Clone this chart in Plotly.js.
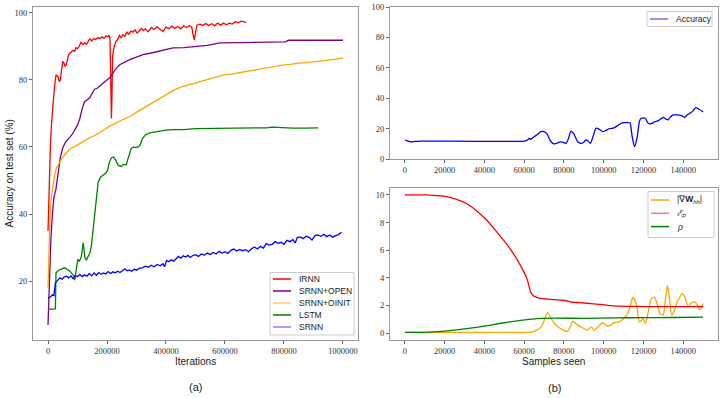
<!DOCTYPE html>
<html>
<head>
<meta charset="utf-8">
<script src="https://cdn.plot.ly/plotly-3.0.1.min.js"></script>
<style>body{margin:0;background:#fff}#chart{width:723px;height:398px}</style>
</head>
<body>
<div id="chart"></div>
<script>
// (a) accuracy on test set vs iterations
var irnnX = [0,2000,5000,8000,12000,17000,22000,27000,31000,35000,38000,42000,46000,50000,54000,58000,62000,66000,70000,75000,80000,85000,90000,95000,100000,106000,112000,118000,124000,130000,136000,142000,148000,155000,162000,169000,176000,183000,190000,197000,203000,207000,210000,212000,214000,215000,217000,219000,222000,226000,230000,236000,242000,248000,254000,260000,267000,274000,281000,288000,295000,302000,309000,316000,323000,330000,340000,350000,360000,370000,380000,390000,400000,410000,420000,430000,440000,450000,460000,470000,480000,487000,492000,496000,500000,505000,515000,525000,535000,545000,555000,565000,575000,585000,595000,605000,615000,625000,635000,645000,655000,665000,672000];
var irnnY = [35,42,52,60,67,73,78,81.5,81,80.8,79.5,80,83,85.5,85,84,84.5,86.5,87.5,88,88.3,88.8,88.5,89.6,89.3,90,91.2,90.5,91,90.6,91.4,92.2,91.6,92.3,92,92.6,92.3,92.8,92.4,93.1,92.8,93.3,92.5,83,70,68.5,76,87,89,90.5,91.5,92,93.2,92.6,93.5,92.9,94.2,93.6,94.5,94.2,94.9,93.9,94.6,95.3,94.7,95.2,94.3,95.6,95,95.8,95.1,94.4,95.7,95.2,96,95.3,95.9,95.2,96.1,95.6,96.2,95.8,93.5,91.8,94,96.3,96.6,96.2,96.8,96.2,96.7,96.1,96.9,96.3,96.9,96.4,96.9,96.6,97.3,97,97.5,97.2,97.1];

var openX = [0,3000,6000,10000,15000,20000,27000,34000,42000,51000,60000,70000,80000,90000,100000,108000,116000,124000,132000,141000,150000,158000,167000,175000,190000,209000,220000,232000,243000,260000,277000,300000,322000,350000,380000,400000,424000,460000,500000,540000,583000,650000,700000,760000,805000,815000,900000,1000000];
var openY = [7,15,24,33,40,45,47.5,51.5,57,60,61.5,62.5,63.5,65,66.5,68.5,71.5,73.5,74,74.6,76,77.2,77.5,78.2,79.3,80.6,82,83.5,84.5,85.3,86,86.8,87.5,88,88.6,89.1,89.5,89.6,90,90.3,91,91.1,91.2,91.2,91.3,91.8,91.8,91.8];

var oinitX = [0,3400,7000,11000,17000,23000,30000,40000,50000,62000,75000,96000,118000,141000,160000,175000,192000,209000,230000,254000,270000,288000,305000,322000,345000,368000,395000,424000,450000,481000,510000,538000,565000,593000,620000,651000,680000,707000,735000,763000,790000,820000,850000,877000,900000,922000,950000,975000,1000000];
var oinitY = [18,33,40,45,49,52,54,55.7,57,58.2,59.5,60.4,61.6,62.7,63.5,64.2,65.2,66.2,67.1,68.2,68.9,69.6,70.6,71.5,72.7,74,75.4,76.8,77.8,78.6,79.4,80.1,80.8,81.4,81.7,82.2,82.6,83.1,83.6,84,84.3,84.6,85,85.1,85.3,85.5,85.9,86.2,86.5];

var lstmX = [0,10000,20000,25000,27000,35000,45000,56000,65000,74000,84000,88000,90500,93000,96000,101000,106000,112000,115000,119000,122000,125000,130000,136000,142000,147000,152000,158000,164000,170000,178000,186000,195000,202000,208000,215000,222000,230000,238000,248000,256000,265000,274000,282000,290000,298000,305000,312000,320000,330000,345000,370000,400000,424000,460000,500000,540000,580000,620000,660000,700000,740000,760000,790000,830000,870000,916000];
var lstmY = [11.6,11.6,11.6,11.8,22.5,23.2,23.6,24,23.6,23,22,21.5,20.3,22,23.5,26.5,26,27,28.5,31.5,29.5,27,26.3,27.5,28.5,30.5,35,39.5,45,49.5,51,51.5,52.2,53,55.5,56.8,57,56,54.5,54.2,54.8,54.7,57,59.5,60,59.8,60,60.5,62.5,63.6,64.2,64.6,65,65.2,65.2,65.5,65.5,65.6,65.6,65.7,65.6,65.7,65.9,65.7,65.6,65.6,65.7];

var srnnX = [0,8000,16000,20000,25000,32000,40000,48000,55000,62000,70000,78000,85000,92000,100000,108000,116000,124000,132000,140000,148000,156000,164000,172000,180000,188000,196000,204000,212000,220000,228000,236000,244000,252000,260000,268000,276000,284000,292000,300000,310000,320000,330000,340000,350000,360000,370000,380000,390000,395000,402000,410000,418000,426000,434000,442000,450000,458000,466000,474000,482000,490000,500000,510000,520000,530000,540000,550000,560000,570000,580000,590000,600000,610000,620000,630000,640000,650000,660000,670000,680000,690000,700000,710000,720000,730000,740000,750000,760000,770000,780000,790000,800000,810000,820000,830000,838000,845000,855000,865000,875000,885000,895000,905000,915000,925000,935000,945000,955000,965000,975000,985000,995000];
var srnnY = [15,15.3,16,15.8,19.5,20.2,21,20.6,21.3,21.5,21,21.6,20.8,21.7,21.4,22,21.4,21.9,21.5,22.3,21.6,22.5,21.8,22.6,22.1,22.5,22.2,22.9,22.3,22.8,22.5,23,22.6,23.1,23.7,23.1,23.4,23,23.6,23.3,23.9,24,24.5,24.2,24.8,24.3,25,24.6,25.2,24.3,26.2,25.8,26.4,26,26.8,27.4,26.9,27.6,27.2,27.7,27.1,27.6,27.9,27.4,28.1,27.8,28.4,28,28.6,28.1,28.9,28.4,28.8,28.3,29.2,29.6,29,29.5,29.1,29.4,28.8,29.7,30.2,29.6,30.4,29.9,31.2,30.8,31,31.8,31.3,31.6,31,32.2,31.8,32.4,31.4,33,33.2,32.7,33.4,33.1,32.3,33.6,33.8,33.4,34,33.3,33.8,33.1,33.6,33.9,34.6];

// (b) top: accuracy vs samples seen
var accX = [0,1500,3000,5000,8000,60000,61600,62500,63300,64900,66500,68300,70000,71500,73400,75000,76500,78400,80000,81000,82300,83500,85000,86900,88600,90000,91000,92000,93300,94700,96100,97800,99500,101000,102900,104500,106300,108800,110500,112200,113200,114300,115500,116800,118000,118900,120900,122300,124000,125600,127500,129900,131000,132400,133500,134900,137000,139100,140800,142000,143300,144800,146200,148000,150000];
var accY = [12.5,11.8,11.2,11.6,11.8,11.8,12.5,13.5,13,14.5,16,18,18,16.5,11.5,10,10.5,11.2,10.8,10.3,13.5,18.4,16.5,11.4,10.3,11,12.5,12,10.3,15,20.2,19.5,18,18.8,20,20.2,21.3,23.5,23.9,24,23.8,15,8.1,14,25,26.8,26.8,23.5,23.2,24.5,25.2,27.4,26.5,25.7,27.5,29,29,28.5,27.4,29,30,31.5,33.8,32.7,31];

// (b) bottom: gradient norm, E_P, rho
var gradX = [0,30000,60000,64000,66000,68300,70000,71700,73400,75000,76800,79300,81800,83000,84400,86000,88600,91900,93600,95300,97800,99500,102100,105400,107500,109700,111000,112200,113500,114700,116400,118000,119800,121000,122300,124000,125400,126500,128200,129900,131000,132100,133200,134100,135800,137000,138300,139400,140500,142500,144200,145900,147000,148400,150100];
var gradY = [0.05,0.05,0.05,0.07,0.2,0.4,0.9,1.5,1.1,0.75,0.48,0.25,0.12,0.4,0.85,0.7,0.45,0.22,0.45,0.22,0.55,0.75,0.5,0.75,0.8,1.0,1.2,1.45,2.0,2.6,2.1,0.8,1.05,0.7,1.45,2.5,2.6,2.3,1.45,1.3,2.4,3.45,2.4,1.3,1.7,2.3,2.6,2.85,2.7,1.95,2.2,2.25,2.05,1.7,2.15];

var epX = [0,10000,16000,21000,26000,31000,36000,41000,46000,51500,56500,61500,63300,64900,67500,71700,78400,82000,83000,88000,95000,102000,112000,125000,150000];
var epY = [10,10,9.95,9.88,9.68,9.38,8.86,8.2,7.36,6.38,5.3,3.9,2.95,2.66,2.53,2.46,2.38,2.32,2.26,2.2,2.12,2.01,1.93,1.92,1.92];

var rhoX = [0,10000,20000,30000,40000,50000,60000,66000,75000,90000,105000,120000,135000,150000];
var rhoY = [0.05,0.06,0.15,0.3,0.5,0.75,0.95,1.05,1.08,1.07,1.1,1.12,1.13,1.15];

var iterTicks = [0,200000,400000,600000,800000,1000000];
var sampleTicks = [0,20000,40000,60000,80000,100000,120000,140000];

// legend labels and handle colours (some handles are drawn faded, as in the figure)
var legendA = ['IRNN', 'SRNN+OPEN', 'SRNN+OINIT', 'LSTM', 'SRNN'];
var legendAColors = ['#ff0000', '#800080', '#ffcc80', '#008000', '#8080ff'];
var legendB1 = ['Accuracy'];
var legendB1Colors = ['#7070ff'];
var legendB2 = ['|∇<b>W</b><i><sub>hh</sub></i>|', '<i>ℰ<sub>P</sub></i>', '<i>ρ</i>'];
var legendB2Colors = ['#ffa500', '#ff8080', '#008000'];

var W = 723, H = 398;
var serif = 'Liberation Serif, DejaVu Serif, serif';
var sans = 'Liberation Sans, Arial, sans-serif';

function line(x, y, name, color, xa, ya, shape) {
    return {
        x: x, y: y, name: name, mode: 'lines',
        xaxis: xa, yaxis: ya,
        line: {color: color, width: 1.3, shape: shape || 'linear', smoothing: 0.6}
    };
}

var data = [
    line(irnnX, irnnY, 'IRNN', '#ff0000', 'x', 'y'),
    line(openX, openY, 'SRNN+OPEN', '#800080', 'x', 'y'),
    line(oinitX, oinitY, 'SRNN+OINIT', '#ffa500', 'x', 'y'),
    line(lstmX, lstmY, 'LSTM', '#008000', 'x', 'y'),
    line(srnnX, srnnY, 'SRNN', '#0000ff', 'x', 'y'),
    line(accX, accY, 'Accuracy', '#0000ff', 'x2', 'y2', 'spline'),
    line(gradX, gradY, 'grad', '#ffa500', 'x3', 'y3', 'spline'),
    line(epX, epY, 'EP', '#ff0000', 'x3', 'y3', 'spline'),
    line(rhoX, rhoY, 'rho', '#008000', 'x3', 'y3', 'spline')
];

function axis(extra) {
    var a = {
        showgrid: false, zeroline: false, showline: true, mirror: true,
        linecolor: '#999', linewidth: 1, ticks: 'outside', ticklen: 3,
        tickcolor: '#666', tickformat: 'd',
        tickfont: {family: serif, size: 8.5, color: '#333'}
    };
    for (var k in extra) a[k] = extra[k];
    return a;
}

var shapes = [];
var annotations = [];
var px = function (v) { return v / W; };
var py = function (v) { return 1 - v / H; };

// matplotlib-style legend box: compact rows, short handles
function addLegend(labels, colors, box) {
    shapes.push({type: 'rect', xref: 'paper', yref: 'paper', layer: 'above',
        x0: px(box.left), x1: px(box.right), y0: py(box.bottom), y1: py(box.top),
        line: {color: '#cccccc', width: 1}, fillcolor: 'rgba(255,255,255,0.85)'});
    labels.forEach(function (lab, i) {
        var yy = py(box.top + box.first + i * box.step);
        shapes.push({type: 'line', xref: 'paper', yref: 'paper', layer: 'above',
            x0: px(box.left + 3), x1: px(box.left + 21), y0: yy, y1: yy,
            line: {color: colors[i], width: 1.5}});
        annotations.push({text: lab, xref: 'paper', yref: 'paper', x: px(box.left + 27), y: yy,
            xanchor: 'left', yanchor: 'middle', showarrow: false,
            font: {family: sans, size: 8.5, color: '#222'}});
    });
}

addLegend(legendA, legendAColors, {left: 270, right: 354, top: 272.5, bottom: 335, first: 6.5, step: 12});
addLegend(legendB1, legendB1Colors, {left: 647, right: 712, top: 11.5, bottom: 26.5, first: 7.5, step: 12});
addLegend(legendB2, legendB2Colors, {left: 648, right: 714, top: 191.5, bottom: 237.5, first: 8.5, step: 13.3});

// axis titles and panel captions
function label(text, x, y, size, angle) {
    annotations.push({text: text, xref: 'paper', yref: 'paper', x: px(x), y: py(y),
        xanchor: 'center', yanchor: 'middle', showarrow: false, textangle: angle || 0,
        font: {family: sans, size: size, color: '#222'}});
}
label('Iterations', 195.5, 361, 10);
label('Samples seen', 553.5, 361, 10);
label('Accuracy on test set (%)', 8.5, 174, 10, -90);
label('(a)', 195, 387, 11);
label('(b)', 554, 388, 11);

var layout = {
    width: W, height: H,
    margin: {l: 0, r: 0, t: 0, b: 0},
    paper_bgcolor: '#fff', plot_bgcolor: '#fff',
    showlegend: false,
    xaxis: axis({domain: [0.0456, 0.4952], anchor: 'y', range: [-51000, 1051000], tickvals: iterTicks}),
    yaxis: axis({domain: [0.1457, 0.9824], anchor: 'x', range: [2.5, 101.7], tickvals: [20, 40, 60, 80, 100]}),
    xaxis2: axis({domain: [0.5394, 0.9931], anchor: 'y2', range: [-7500, 157500], tickvals: sampleTicks}),
    yaxis2: axis({domain: [0.6005, 0.9824], anchor: 'x2', range: [0, 100], tickvals: [0, 20, 40, 60, 80, 100]}),
    xaxis3: axis({domain: [0.5394, 0.9931], anchor: 'y3', range: [-7500, 157500], tickvals: sampleTicks}),
    yaxis3: axis({domain: [0.1457, 0.5276], anchor: 'x3', range: [-0.5, 10.5], tickvals: [0, 2, 4, 6, 8, 10]}),
    shapes: shapes,
    annotations: annotations
};

Plotly.newPlot('chart', data, layout, {staticPlot: true});
</script>
</body>
</html>
